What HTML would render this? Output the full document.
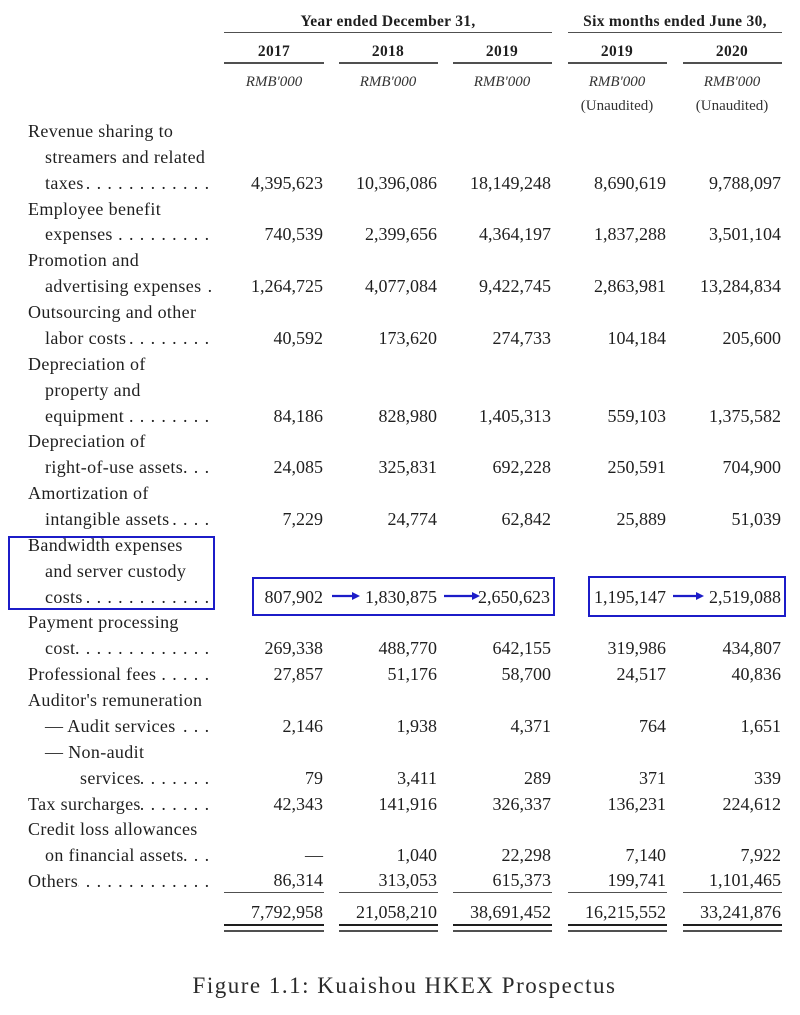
<!DOCTYPE html>
<html>
<head>
<meta charset="utf-8">
<style>
  html, body { margin:0; padding:0; background:#ffffff; }
  body { width:800px; height:1015px; position:relative; overflow:hidden;
         font-family:"Liberation Serif", "DejaVu Serif", serif; color:#1f1f1f; }
  .a { position:absolute; white-space:nowrap; }
  .hd { font-weight:bold; font-size:15.5px; line-height:20px; letter-spacing:0.3px; text-align:center; }
  .it { font-style:italic; font-size:15px; line-height:20px; text-align:center; color:#333; }
  .ua { font-size:15px; line-height:20px; text-align:center; color:#333; }
  .ln { position:absolute; background:#505050; height:1.5px; }
  .lbl { position:absolute; font-size:18px; line-height:26px; letter-spacing:0.35px; white-space:nowrap;
         display:flex; }
  .lbl .t { flex:0 0 auto; }
  .lbl .d { flex:1 1 0; min-width:0; overflow:hidden; white-space:nowrap; direction:rtl; letter-spacing:0.9px; }
  .n { position:absolute; font-size:18px; line-height:26px; width:150px; text-align:right; white-space:nowrap; }
  .box { position:absolute; border:2px solid #1c1cc8; box-sizing:border-box; }
  .cap { position:absolute; left:0; width:809px; text-align:center; font-size:23px; line-height:30px;
         letter-spacing:1.5px; color:#2a2a2a; }
</style>
</head>
<body>

<!-- Header -->
<div class="a hd" style="left:224px; width:328px; top:11.5px;">Year ended December 31,</div>
<div class="a hd" style="left:568px; width:214px; top:11.5px;">Six months ended June 30,</div>
<div class="ln" style="left:224px; width:328px; top:31.5px;"></div>
<div class="ln" style="left:568px; width:214px; top:31.5px;"></div>

<div class="a hd" style="left:224px; width:100px; top:42px;">2017</div>
<div class="a hd" style="left:338px; width:100px; top:42px;">2018</div>
<div class="a hd" style="left:452px; width:100px; top:42px;">2019</div>
<div class="a hd" style="left:567px; width:100px; top:42px;">2019</div>
<div class="a hd" style="left:682px; width:100px; top:42px;">2020</div>
<div class="ln" style="left:224px; width:100px; top:62px;"></div>
<div class="ln" style="left:339px; width:99px; top:62px;"></div>
<div class="ln" style="left:453px; width:99px; top:62px;"></div>
<div class="ln" style="left:568px; width:99px; top:62px;"></div>
<div class="ln" style="left:683px; width:99px; top:62px;"></div>

<div class="a it" style="left:224px; width:100px; top:72px;">RMB'000</div>
<div class="a it" style="left:338px; width:100px; top:72px;">RMB'000</div>
<div class="a it" style="left:452px; width:100px; top:72px;">RMB'000</div>
<div class="a it" style="left:567px; width:100px; top:72px;">RMB'000</div>
<div class="a it" style="left:682px; width:100px; top:72px;">RMB'000</div>
<div class="a ua" style="left:567px; width:100px; top:96px;">(Unaudited)</div>
<div class="a ua" style="left:682px; width:100px; top:96px;">(Unaudited)</div>

<!-- Labels -->
<div class="lbl" style="left:28px; top:117.9px;"><span class="t">Revenue sharing to</span></div>
<div class="lbl" style="left:45px; top:143.8px;"><span class="t">streamers and related</span></div>
<div class="lbl" style="left:45px; width:165px; top:169.6px;"><span class="t">taxes</span><span class="d">. . . . . . . . . . . . . . . . . . . . . . . .</span></div>
<div class="lbl" style="left:28px; top:195.5px;"><span class="t">Employee benefit</span></div>
<div class="lbl" style="left:45px; width:165px; top:221.4px;"><span class="t">expenses</span><span class="d">. . . . . . . . . . . . . . . . . . . . . . . .</span></div>
<div class="lbl" style="left:28px; top:247.3px;"><span class="t">Promotion and</span></div>
<div class="lbl" style="left:45px; width:168px; top:273.1px;"><span class="t">advertising expenses</span><span class="d">. . . .</span></div>
<div class="lbl" style="left:28px; top:299px;"><span class="t">Outsourcing and other</span></div>
<div class="lbl" style="left:45px; width:165px; top:324.9px;"><span class="t">labor costs </span><span class="d">. . . . . . . . . . . . . . . . . . . . . . . .</span></div>
<div class="lbl" style="left:28px; top:350.7px;"><span class="t">Depreciation of</span></div>
<div class="lbl" style="left:45px; top:376.6px;"><span class="t">property and</span></div>
<div class="lbl" style="left:45px; width:165px; top:402.5px;"><span class="t">equipment</span><span class="d">. . . . . . . . . . . . . . . . . . . . . . . .</span></div>
<div class="lbl" style="left:28px; top:428.3px;"><span class="t">Depreciation of</span></div>
<div class="lbl" style="left:45px; width:165px; top:454.2px;"><span class="t">right-of-use assets</span><span class="d">. . . . . . . .</span></div>
<div class="lbl" style="left:28px; top:480.1px;"><span class="t">Amortization of</span></div>
<div class="lbl" style="left:45px; width:165px; top:506px;"><span class="t">intangible assets </span><span class="d">. . . . . . . . . .</span></div>
<div class="lbl" style="left:28px; top:531.8px;"><span class="t">Bandwidth expenses</span></div>
<div class="lbl" style="left:45px; top:557.7px;"><span class="t">and server custody</span></div>
<div class="lbl" style="left:45px; width:165px; top:583.6px;"><span class="t">costs</span><span class="d">. . . . . . . . . . . . . . . . . . . . . . . .</span></div>
<div class="lbl" style="left:28px; top:609.4px;"><span class="t">Payment processing</span></div>
<div class="lbl" style="left:45px; width:165px; top:635.3px;"><span class="t">cost</span><span class="d">. . . . . . . . . . . . . . . . . . . . . . . .</span></div>
<div class="lbl" style="left:28px; width:182px; top:661.2px;"><span class="t">Professional fees </span><span class="d">. . . . . . . . . . . .</span></div>
<div class="lbl" style="left:28px; top:687px;"><span class="t">Auditor's remuneration</span></div>
<div class="lbl" style="left:45px; width:165px; top:712.9px;"><span class="t">— Audit services </span><span class="d">. . . . . . . . . .</span></div>
<div class="lbl" style="left:45px; top:738.8px;"><span class="t">— Non-audit</span></div>
<div class="lbl" style="left:80px; width:130px; top:764.6px;"><span class="t">services</span><span class="d">. . . . . . . . . . . . . . . . . .</span></div>
<div class="lbl" style="left:28px; width:182px; top:790.5px;"><span class="t">Tax surcharges</span><span class="d">. . . . . . . . . . . . . . . . .</span></div>
<div class="lbl" style="left:28px; top:816.4px;"><span class="t">Credit loss allowances</span></div>
<div class="lbl" style="left:45px; width:165px; top:842.3px;"><span class="t">on financial assets </span><span class="d">. . . . . .</span></div>
<div class="lbl" style="left:28px; width:182px; top:868.1px;"><span class="t">Others </span><span class="d">. . . . . . . . . . . . . . . . . . . . . . . .</span></div>

<!-- Numbers -->
<div class="n" style="left:173px; top:169.6px;">4,395,623</div>
<div class="n" style="left:287px; top:169.6px;">10,396,086</div>
<div class="n" style="left:401px; top:169.6px;">18,149,248</div>
<div class="n" style="left:516px; top:169.6px;">8,690,619</div>
<div class="n" style="left:631px; top:169.6px;">9,788,097</div>

<div class="n" style="left:173px; top:221.4px;">740,539</div>
<div class="n" style="left:287px; top:221.4px;">2,399,656</div>
<div class="n" style="left:401px; top:221.4px;">4,364,197</div>
<div class="n" style="left:516px; top:221.4px;">1,837,288</div>
<div class="n" style="left:631px; top:221.4px;">3,501,104</div>

<div class="n" style="left:173px; top:273.1px;">1,264,725</div>
<div class="n" style="left:287px; top:273.1px;">4,077,084</div>
<div class="n" style="left:401px; top:273.1px;">9,422,745</div>
<div class="n" style="left:516px; top:273.1px;">2,863,981</div>
<div class="n" style="left:631px; top:273.1px;">13,284,834</div>

<div class="n" style="left:173px; top:324.9px;">40,592</div>
<div class="n" style="left:287px; top:324.9px;">173,620</div>
<div class="n" style="left:401px; top:324.9px;">274,733</div>
<div class="n" style="left:516px; top:324.9px;">104,184</div>
<div class="n" style="left:631px; top:324.9px;">205,600</div>

<div class="n" style="left:173px; top:402.5px;">84,186</div>
<div class="n" style="left:287px; top:402.5px;">828,980</div>
<div class="n" style="left:401px; top:402.5px;">1,405,313</div>
<div class="n" style="left:516px; top:402.5px;">559,103</div>
<div class="n" style="left:631px; top:402.5px;">1,375,582</div>

<div class="n" style="left:173px; top:454.2px;">24,085</div>
<div class="n" style="left:287px; top:454.2px;">325,831</div>
<div class="n" style="left:401px; top:454.2px;">692,228</div>
<div class="n" style="left:516px; top:454.2px;">250,591</div>
<div class="n" style="left:631px; top:454.2px;">704,900</div>

<div class="n" style="left:173px; top:506px;">7,229</div>
<div class="n" style="left:287px; top:506px;">24,774</div>
<div class="n" style="left:401px; top:506px;">62,842</div>
<div class="n" style="left:516px; top:506px;">25,889</div>
<div class="n" style="left:631px; top:506px;">51,039</div>

<div class="n" style="left:173px; top:583.6px;">807,902</div>
<div class="n" style="left:287px; top:583.6px;">1,830,875</div>
<div class="n" style="left:400px; top:583.6px;">2,650,623</div>
<div class="n" style="left:516px; top:583.6px;">1,195,147</div>
<div class="n" style="left:631px; top:583.6px;">2,519,088</div>

<div class="n" style="left:173px; top:635.3px;">269,338</div>
<div class="n" style="left:287px; top:635.3px;">488,770</div>
<div class="n" style="left:401px; top:635.3px;">642,155</div>
<div class="n" style="left:516px; top:635.3px;">319,986</div>
<div class="n" style="left:631px; top:635.3px;">434,807</div>

<div class="n" style="left:173px; top:661.2px;">27,857</div>
<div class="n" style="left:287px; top:661.2px;">51,176</div>
<div class="n" style="left:401px; top:661.2px;">58,700</div>
<div class="n" style="left:516px; top:661.2px;">24,517</div>
<div class="n" style="left:631px; top:661.2px;">40,836</div>

<div class="n" style="left:173px; top:712.9px;">2,146</div>
<div class="n" style="left:287px; top:712.9px;">1,938</div>
<div class="n" style="left:401px; top:712.9px;">4,371</div>
<div class="n" style="left:516px; top:712.9px;">764</div>
<div class="n" style="left:631px; top:712.9px;">1,651</div>

<div class="n" style="left:173px; top:764.6px;">79</div>
<div class="n" style="left:287px; top:764.6px;">3,411</div>
<div class="n" style="left:401px; top:764.6px;">289</div>
<div class="n" style="left:516px; top:764.6px;">371</div>
<div class="n" style="left:631px; top:764.6px;">339</div>

<div class="n" style="left:173px; top:790.5px;">42,343</div>
<div class="n" style="left:287px; top:790.5px;">141,916</div>
<div class="n" style="left:401px; top:790.5px;">326,337</div>
<div class="n" style="left:516px; top:790.5px;">136,231</div>
<div class="n" style="left:631px; top:790.5px;">224,612</div>

<div class="n" style="left:173px; top:842.3px;">—</div>
<div class="n" style="left:287px; top:842.3px;">1,040</div>
<div class="n" style="left:401px; top:842.3px;">22,298</div>
<div class="n" style="left:516px; top:842.3px;">7,140</div>
<div class="n" style="left:631px; top:842.3px;">7,922</div>

<div class="n" style="left:173px; top:866.5px;">86,314</div>
<div class="n" style="left:287px; top:866.5px;">313,053</div>
<div class="n" style="left:401px; top:866.5px;">615,373</div>
<div class="n" style="left:516px; top:866.5px;">199,741</div>
<div class="n" style="left:631px; top:866.5px;">1,101,465</div>

<!-- single lines under Others -->
<div class="ln" style="left:224px; width:100px; top:891.5px;"></div>
<div class="ln" style="left:339px; width:99px; top:891.5px;"></div>
<div class="ln" style="left:453px; width:99px; top:891.5px;"></div>
<div class="ln" style="left:568px; width:99px; top:891.5px;"></div>
<div class="ln" style="left:683px; width:99px; top:891.5px;"></div>

<!-- totals -->
<div class="n" style="left:173px; top:898.9px;">7,792,958</div>
<div class="n" style="left:287px; top:898.9px;">21,058,210</div>
<div class="n" style="left:401px; top:898.9px;">38,691,452</div>
<div class="n" style="left:516px; top:898.9px;">16,215,552</div>
<div class="n" style="left:631px; top:898.9px;">33,241,876</div>

<!-- double lines -->
<div class="ln" style="left:224px; width:100px; top:923.5px; height:2.8px; background:#1e1e1e;"></div>
<div class="ln" style="left:339px; width:99px; top:923.5px; height:2.8px; background:#1e1e1e;"></div>
<div class="ln" style="left:453px; width:99px; top:923.5px; height:2.8px; background:#1e1e1e;"></div>
<div class="ln" style="left:568px; width:99px; top:923.5px; height:2.8px; background:#1e1e1e;"></div>
<div class="ln" style="left:683px; width:99px; top:923.5px; height:2.8px; background:#1e1e1e;"></div>
<div class="ln" style="left:224px; width:100px; top:930.3px; height:1.3px;"></div>
<div class="ln" style="left:339px; width:99px; top:930.3px; height:1.3px;"></div>
<div class="ln" style="left:453px; width:99px; top:930.3px; height:1.3px;"></div>
<div class="ln" style="left:568px; width:99px; top:930.3px; height:1.3px;"></div>
<div class="ln" style="left:683px; width:99px; top:930.3px; height:1.3px;"></div>

<!-- blue boxes -->
<div class="box" style="left:8px; top:536px; width:207px; height:74px;"></div>
<div class="box" style="left:252px; top:577px; width:303px; height:39px;"></div>
<div class="box" style="left:588px; top:576px; width:198px; height:41px;"></div>

<!-- arrows -->
<svg class="a" style="left:0; top:0;" width="800" height="1015" viewBox="0 0 800 1015">
  <g stroke="#1c1cc8" stroke-width="2.2" fill="#1c1cc8">
    <line x1="332" y1="596" x2="353" y2="596"/>
    <polygon points="352,592 360,596 352,600" stroke="none"/>
    <line x1="444" y1="596" x2="473" y2="596"/>
    <polygon points="472,592 480,596 472,600" stroke="none"/>
    <line x1="673" y1="596" x2="697" y2="596"/>
    <polygon points="696,592 704,596 696,600" stroke="none"/>
  </g>
</svg>

<!-- caption -->
<div class="cap" style="top:971px;">Figure 1.1: Kuaishou HKEX Prospectus</div>

</body>
</html>
